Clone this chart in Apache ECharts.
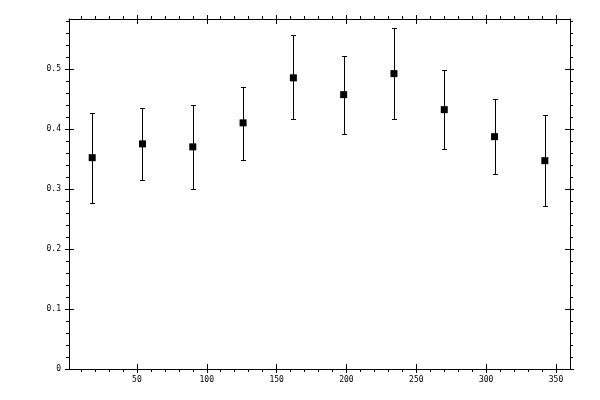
<!DOCTYPE html>
<html>
<head>
<meta charset="utf-8">
<script src="https://cdn.jsdelivr.net/npm/echarts@6/dist/echarts.min.js"></script>
<style>
html,body{margin:0;padding:0;background:#fff;}
#c{width:600px;height:400px;}
</style>
</head>
<body>
<div id="c"></div>
<script>
// ---- data ----
var xValues = [18, 54, 90, 126, 162, 198, 234, 270, 306, 342];
var yValues = [0.352, 0.375, 0.370, 0.410, 0.485, 0.457, 0.492, 0.432, 0.387, 0.347];
var yHigh   = [0.427, 0.435, 0.440, 0.470, 0.556, 0.522, 0.568, 0.498, 0.450, 0.423];
var yLow    = [0.277, 0.315, 0.300, 0.348, 0.416, 0.392, 0.416, 0.367, 0.325, 0.271];

// ---- axis ticks / labels ----
var xMajorTicks = [50, 100, 150, 200, 250, 300, 350];
var xMinorTicks = [10, 20, 30, 40, 50, 60, 70, 80, 90, 100, 110, 120, 130, 140, 150, 160, 170, 180,
                   190, 200, 210, 220, 230, 240, 250, 260, 270, 280, 290, 300, 310, 320, 330, 340, 350];
var yMajorTicks = [0, 0.1, 0.2, 0.3, 0.4, 0.5];
var yMinorTicks = [0.02, 0.04, 0.06, 0.08, 0.1, 0.12, 0.14, 0.16, 0.18, 0.2, 0.22, 0.24, 0.26, 0.28,
                   0.3, 0.32, 0.34, 0.36, 0.38, 0.4, 0.42, 0.44, 0.46, 0.48, 0.5, 0.52, 0.54, 0.56, 0.58];
var xMin = 1.4, xMax = 360;
var yMin = 0, yMax = 0.583;

var FONT = 'DejaVu Sans Mono';
var BLACK = '#000';

function makeAxis(kind, pos, opts) {
  var isX = kind === 'x';
  var a = {
    type: 'value',
    position: pos,
    min: isX ? xMin : yMin,
    max: isX ? xMax : yMax,
    splitLine: { show: false },
    axisLine: { show: !!opts.line, onZero: false, lineStyle: { color: BLACK, width: 1 } },
    axisLabel: { show: false },
    axisTick: {
      show: true,
      inside: !!opts.inside,
      length: opts.len,
      lineStyle: { color: BLACK, width: 1 },
      customValues: opts.ticks
    }
  };
  if (opts.labels) {
    a.axisLabel = {
      show: true,
      customValues: opts.labels,
      color: BLACK,
      fontFamily: FONT,
      fontSize: 8,
      margin: isX ? 7 : 8,
      formatter: function (v) { return isX ? String(v) : (v === 0 ? '0' : v.toFixed(1)); }
    };
  }
  return a;
}

var xAxes = [
  makeAxis('x', 'bottom', { line: true, ticks: xMinorTicks, len: 3, labels: xMajorTicks }),
  makeAxis('x', 'bottom', { ticks: xMajorTicks, len: 4 }),
  makeAxis('x', 'bottom', { ticks: xMajorTicks, len: 5, inside: true }),
  makeAxis('x', 'top', { line: true, ticks: xMinorTicks, len: 3 }),
  makeAxis('x', 'top', { ticks: xMajorTicks, len: 4 }),
  makeAxis('x', 'top', { ticks: xMajorTicks, len: 5, inside: true })
];
var yAxes = [
  makeAxis('y', 'left', { line: true, ticks: yMinorTicks, len: 3, labels: yMajorTicks }),
  makeAxis('y', 'left', { ticks: yMajorTicks, len: 4 }),
  makeAxis('y', 'left', { ticks: yMajorTicks, len: 5, inside: true }),
  makeAxis('y', 'right', { line: true, ticks: yMinorTicks, len: 3 }),
  makeAxis('y', 'right', { ticks: yMajorTicks, len: 4 }),
  makeAxis('y', 'right', { ticks: yMajorTicks, len: 5, inside: true })
];

var pointData = xValues.map(function (x, i) { return [x, yValues[i]]; });
var errData = xValues.map(function (x, i) { return [x, yLow[i], yHigh[i]]; });

var chart = echarts.init(document.getElementById('c'), null, { renderer: 'canvas' });
chart.setOption({
  animation: false,
  backgroundColor: '#fff',
  grid: { left: 69, top: 19, width: 501, height: 350, containLabel: false },
  xAxis: xAxes,
  yAxis: yAxes,
  series: [
    {
      type: 'custom',
      xAxisIndex: 0,
      yAxisIndex: 0,
      data: errData,
      renderItem: function (params, api) {
        var x = api.value(0);
        var lo = api.coord([x, api.value(1)]);
        var hi = api.coord([x, api.value(2)]);
        var px = Math.round(lo[0]) + 0.5;
        var yl = Math.round(lo[1]) + 0.5;
        var yh = Math.round(hi[1]) + 0.5;
        var cap = 2.5;
        var style = { stroke: BLACK, lineWidth: 1, fill: null };
        return {
          type: 'group',
          children: [
            { type: 'line', shape: { x1: px, y1: yl, x2: px, y2: yh }, style: style },
            { type: 'line', shape: { x1: px - cap, y1: yh, x2: px + cap, y2: yh }, style: style },
            { type: 'line', shape: { x1: px - cap, y1: yl, x2: px + cap, y2: yl }, style: style }
          ]
        };
      },
      z: 2
    },
    {
      type: 'scatter',
      xAxisIndex: 0,
      yAxisIndex: 0,
      data: pointData,
      symbol: 'rect',
      symbolSize: 7,
      itemStyle: { color: BLACK, opacity: 1 },
      z: 3
    }
  ]
});
</script>
</body>
</html>
